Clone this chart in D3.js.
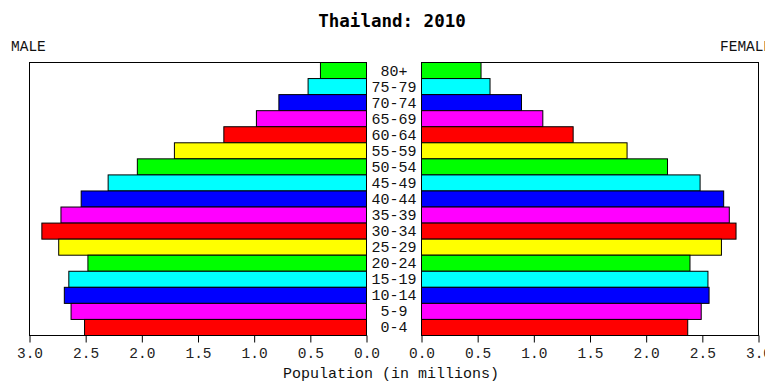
<!DOCTYPE html>
<html>
<head>
<meta charset="utf-8">
<script src="https://cdn.jsdelivr.net/npm/d3@7"></script>
<style>
  body { margin: 0; background: #fff; }
  svg { display: block; }
  text { font-family: "Liberation Mono", "DejaVu Sans Mono", monospace; }
</style>
</head>
<body>
<div id="chart"></div>
<script>
// age groups from top to bottom
const ageGroups = ["80+", "75-79", "70-74", "65-69", "60-64", "55-59", "50-54", "45-49", "40-44",
  "35-39", "30-34", "25-29", "20-24", "15-19", "10-14", "5-9", "0-4"];
const male = [0.41, 0.52, 0.78, 0.98, 1.27, 1.71, 2.04, 2.30, 2.54, 2.72, 2.89, 2.74, 2.48, 2.65, 2.69, 2.63, 2.51];
const female = [0.53, 0.61, 0.89, 1.08, 1.35, 1.83, 2.19, 2.48, 2.69, 2.74, 2.80, 2.67, 2.39, 2.55, 2.56, 2.49, 2.37];
// colour cycle starting at the youngest group
const barColors = ["#ff0000", "#ff00ff", "#0000ff", "#00ffff", "#00ff00", "#ffff00"];
const tickValues = [0, 0.5, 1, 1.5, 2, 2.5, 3];

const width = 765, height = 385;
const plotTop = 62.5, plotBottom = 335.5;
const svg = d3.select("#chart").append("svg").attr("width", width).attr("height", height);

const xLeft = d3.scaleLinear().domain([3, 0]).range([29.5, 366.5]);
const xRight = d3.scaleLinear().domain([0, 3]).range([421.5, 758.5]);
const y = d3.scaleBand().domain(ageGroups).range([plotTop, plotBottom]);
const color = (i) => barColors[(ageGroups.length - 1 - i) % 6];

// panel frames
[xLeft, xRight].forEach((x) => {
  const [a, b] = x.range();
  svg.append("rect").attr("x", Math.min(a, b)).attr("y", plotTop).attr("width", Math.abs(b - a))
    .attr("height", plotBottom - plotTop).attr("fill", "#fff").attr("stroke", "#000").attr("stroke-width", 1);
});

svg.append("g").selectAll("rect").data(male).join("rect")
  .attr("x", (d) => xLeft(d)).attr("y", (d, i) => y(ageGroups[i]))
  .attr("width", (d) => xLeft(0) - xLeft(d)).attr("height", y.bandwidth())
  .attr("fill", (d, i) => color(i)).attr("stroke", "#000").attr("stroke-width", 1);

svg.append("g").selectAll("rect").data(female).join("rect")
  .attr("x", xRight(0)).attr("y", (d, i) => y(ageGroups[i]))
  .attr("width", (d) => xRight(d) - xRight(0)).attr("height", y.bandwidth())
  .attr("fill", (d, i) => color(i)).attr("stroke", "#000").attr("stroke-width", 1);

// age labels in the middle
svg.append("g").selectAll("text").data(ageGroups).join("text")
  .attr("x", 394).attr("y", (d) => y(d) + y.bandwidth() / 2 + 5)
  .attr("text-anchor", "middle").attr("font-size", 15).attr("fill", "#111").text((d) => d);

[xLeft, xRight].forEach((x) => {
  const axis = svg.append("g").attr("transform", `translate(0,${plotBottom})`)
    .call(d3.axisBottom(x).tickValues(tickValues).tickFormat(d3.format(".1f")).tickSize(7).tickSizeOuter(0));
  axis.select(".domain").remove();
  axis.selectAll(".tick line").attr("stroke", "#000");
  axis.selectAll(".tick text").attr("font-size", 14.5).attr("fill", "#222").attr("dy", "0.85em")
    .style("font-family", "\"Liberation Mono\", monospace");
});

svg.append("text").attr("x", 392).attr("y", 27).attr("text-anchor", "middle")
  .attr("font-size", 17.5).attr("font-weight", "bold").style("font-family", "\"DejaVu Sans Mono\", monospace")
  .text("Thailand: 2010");
svg.append("text").attr("x", 11).attr("y", 51).attr("font-size", 14.5).attr("fill", "#111").text("MALE");
svg.append("text").attr("x", 720).attr("y", 51).attr("font-size", 14.5).attr("fill", "#111").text("FEMALE");
svg.append("text").attr("x", 391).attr("y", 378).attr("text-anchor", "middle")
  .attr("font-size", 15).attr("fill", "#111").text("Population (in millions)");
</script>
</body>
</html>
